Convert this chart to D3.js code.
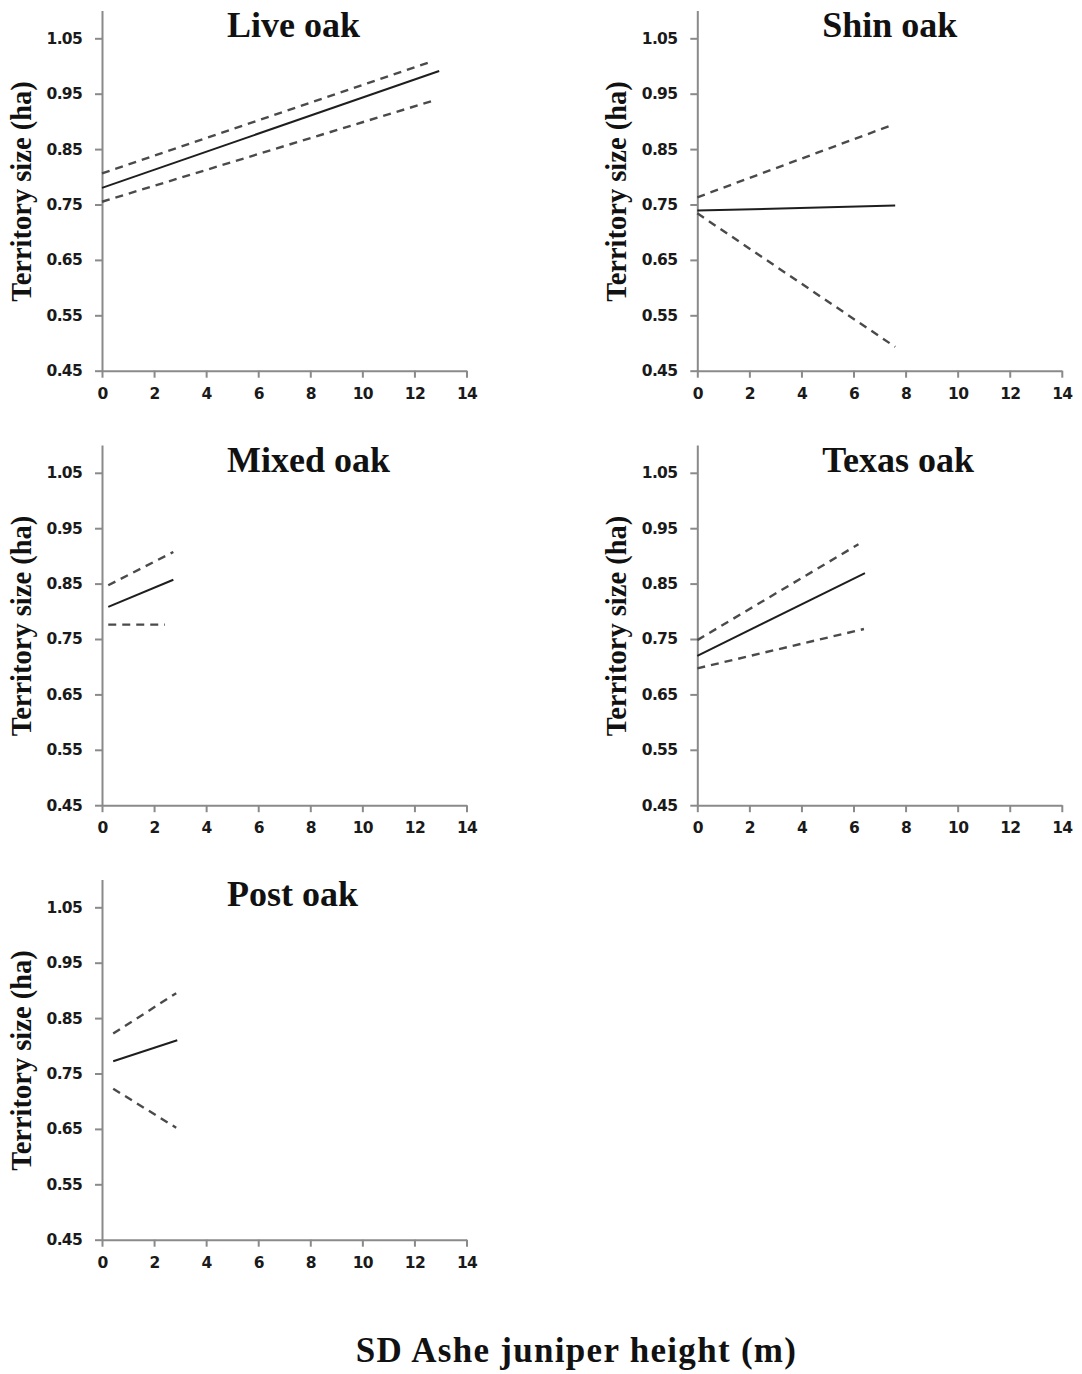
<!DOCTYPE html>
<html>
<head>
<meta charset="utf-8">
<script src="https://cdn.jsdelivr.net/npm/d3@7"></script>
<style>
  body { margin: 0; background: #fff; }
  svg { display: block; }
</style>
</head>
<body>
<div id="c1"></div>
<script>
// Data: each line is [[x0, y0], [x1, y1]]
var panelNames = ["Live oak", "Shin oak", "Mixed oak", "Texas oak", "Post oak"];
var fitLines = [
    [[0, 0.780], [12.95, 0.991]],
    [[0, 0.739], [7.6, 0.748]],
    [[0.24, 0.808], [2.74, 0.857]],
    [[0, 0.7195], [6.44, 0.869]],
    [[0.43, 0.772], [2.89, 0.810]]
];
var upperLines = [
    [[0, 0.806], [12.72, 1.009]],
    [[0, 0.763], [7.4, 0.892]],
    [[0.24, 0.847], [2.74, 0.907]],
    [[0, 0.748], [6.19, 0.921]],
    [[0.43, 0.822], [2.85, 0.895]]
];
var lowerLines = [
    [[0, 0.755], [12.8, 0.9386]],
    [[0, 0.734], [7.6, 0.493]],
    [[0.24, 0.776], [2.42, 0.776]],
    [[0, 0.697], [6.4, 0.768]],
    [[0.43, 0.7226], [2.85, 0.652]]
];
var yTicks = [0.45, 0.55, 0.65, 0.75, 0.85, 0.95, 1.05];
var xTicks = [0, 2, 4, 6, 8, 10, 12, 14];
var yLabel = "Territory size (ha)";
var xLabel = "SD Ashe juniper height (m)";

var w = 1082;
var h = 1374;
var colLeft = [102, 697.3];
var rowTop = [0, 434.5, 869];
var plotW = 364.5;

var svg = d3.select("#c1").append("svg")
    .attr("width", w)
    .attr("height", h);

var x = d3.scaleLinear().domain([0, 14]).range([0, plotW]);
var y = d3.scaleLinear().domain([0.45, 1.10]).range([370.7, 10.6]);

var line = d3.line()
    .x(function (d) { return x(d[0]); })
    .y(function (d) { return y(d[1]); });

panelNames.forEach(function (name, i) {
    var col = i % 2;
    var row = Math.floor(i / 2);
    var g = svg.append("g")
        .attr("transform", "translate(" + colLeft[col] + "," + rowTop[row] + ")");

    // y axis
    var ya = g.append("g")
        .call(d3.axisLeft(y).tickValues(yTicks).tickFormat(d3.format(".2f"))
            .tickSize(7).tickSizeOuter(0).tickPadding(13));
    // x axis
    var xa = g.append("g")
        .attr("transform", "translate(0," + y(0.45) + ")")
        .call(d3.axisBottom(x).tickValues(xTicks)
            .tickSize(7).tickSizeOuter(0).tickPadding(10));

    [ya, xa].forEach(function (a) {
        a.select(".domain").attr("stroke", "#8a8a8a").attr("stroke-width", 2);
        a.selectAll(".tick line").attr("stroke", "#8a8a8a").attr("stroke-width", 2);
        a.selectAll(".tick text")
            .attr("fill", "#1a1a1a")
            .style("font-family", "'DejaVu Sans', sans-serif")
            .style("font-weight", "bold")
            .style("font-size", "15.5px")
            .style("letter-spacing", "-0.7px");
    });

    // lines
    g.append("path")
        .attr("d", line(upperLines[i]))
        .attr("fill", "none")
        .attr("stroke", "#4a4a4a")
        .attr("stroke-width", 2.4)
        .attr("stroke-dasharray", "8,6");
    g.append("path")
        .attr("d", line(lowerLines[i]))
        .attr("fill", "none")
        .attr("stroke", "#4a4a4a")
        .attr("stroke-width", 2.4)
        .attr("stroke-dasharray", "8,6");
    g.append("path")
        .attr("d", line(fitLines[i]))
        .attr("fill", "none")
        .attr("stroke", "#1e1e1e")
        .attr("stroke-width", 2);

    // title
    g.append("text")
        .attr("x", 125)
        .attr("y", 37)
        .style("font-family", "'Liberation Serif', 'Times New Roman', serif")
        .style("font-weight", "bold")
        .style("font-size", "36px")
        .attr("fill", "#111")
        .text(name);

    // y label
    g.append("text")
        .attr("transform", "translate(-71,191.5) rotate(-90)")
        .attr("text-anchor", "middle")
        .style("font-family", "'Liberation Serif', 'Times New Roman', serif")
        .style("font-weight", "bold")
        .style("font-size", "28.5px")
        .attr("fill", "#111")
        .text(yLabel);
});

svg.append("text")
    .attr("x", 576.5)
    .attr("y", 1362)
    .attr("text-anchor", "middle")
    .style("font-family", "'Liberation Serif', 'Times New Roman', serif")
    .style("font-weight", "bold")
    .style("font-size", "35px")
    .style("letter-spacing", "1.3px")
    .attr("fill", "#111")
    .text(xLabel);
</script>
</body>
</html>
